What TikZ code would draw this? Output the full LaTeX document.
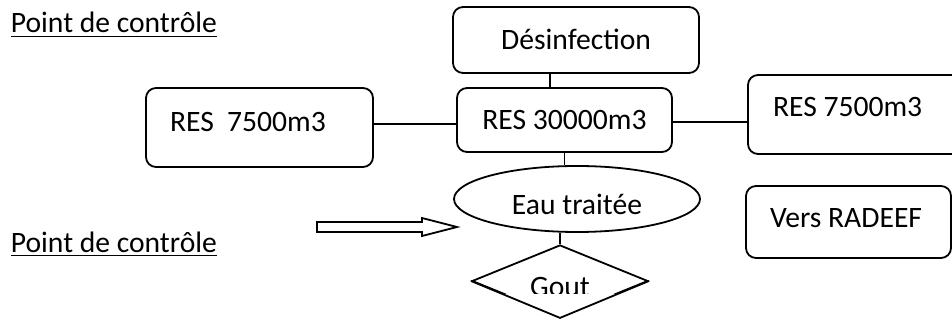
\documentclass[tikz,border=0pt]{standalone}
\usepackage{fontspec}
\setmainfont{Carlito}
\usetikzlibrary{shapes.geometric}

\tikzset{
  txt/.style={font=\fontsize{14.8}{17}\selectfont, text height=9.5pt, text depth=0pt},
  resbox/.style={txt, draw, rounded corners=5pt, inner ysep=0pt},
  leftbox/.style={resbox, execute at begin node={\spaceskip=0pt\xspaceskip=0pt\relax}}
}

\begin{document}
\begin{tikzpicture}[x=0.5pt,y=-0.5pt,line width=0.9pt]
\clip (0,0) rectangle (952,320);
\node[txt,anchor=base west,inner sep=0pt] (pc1) at (10,33) {\underline{Point de contrôle}};
\node[txt,anchor=base west,inner sep=0pt] (pc2) at (10,252) {\underline{Point de contrôle}};
\node[resbox,minimum width=123pt,minimum height=33pt] (desinf) at (576,40) {Désinfection};
\node[resbox,minimum width=107.5pt,minimum height=32pt] (res30) at (564.5,120) {RES 30000m3};
\node[leftbox,inner xsep=12pt,text width=89.5pt,minimum height=39.5pt,text depth=5pt] (resL) at (259.5,127.5) {\mbox{RES\ \ 7500m3}};
\node[leftbox,inner xsep=12.5pt,text width=88.5pt,minimum height=39.5pt,text depth=7.5pt] (resR) at (861.5,114.5) {\mbox{RES 7500m3}};
\node[leftbox,inner xsep=12pt,text width=78.5pt,minimum height=36pt,text depth=4pt] (vers) at (848.5,222) {\mbox{Vers RADEEF}};
\node[txt,draw,ellipse,inner sep=0pt,minimum width=123pt,minimum height=33pt,text height=15pt] (eau) at (577,199) {Eau traitée};
\begin{scope}
\clip (0,0) rectangle (952,293);
\node[txt,draw,diamond,shape aspect=2.4,inner sep=0pt,minimum width=88pt,minimum height=36pt,text height=15.5pt] (gout) at (560,281) {Gout};
\end{scope}
\draw (gout.west) -- (gout.south) -- (gout.east);
\draw ([xshift=-13pt]desinf.south) -- ([xshift=-13pt]desinf.south |- res30.north);
\draw (res30.south) -- (res30.south |- eau.north);
\draw (gout.north) -- (gout.north |- eau.south);
\draw ([yshift=1.75pt]resL.east) -- ([yshift=1.75pt]resL.east -| res30.west);
\draw ([yshift=-1pt]res30.east) -- ([yshift=-1pt]res30.east -| resR.west);
\draw (317,222) -- (422,222) -- (422,218) -- (457,227) -- (422,236) -- (422,232) -- (317,232) -- cycle;
\end{tikzpicture}
\end{document}
